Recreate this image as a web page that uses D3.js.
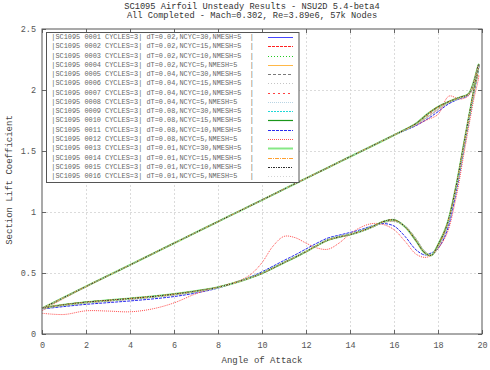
<!DOCTYPE html>
<html><head><meta charset="utf-8">
<script src="https://cdn.jsdelivr.net/npm/d3@7"></script>
<style>
body{margin:0;background:#fff}
svg{display:block}
text{font-family:"Liberation Mono","DejaVu Sans Mono",monospace}
</style>
</head><body>
<svg id="chart" width="490" height="370"></svg>
<script>
// ---------------- data ----------------
const titleLines = ["SC1095 Airfoil Unsteady Results - NSU2D 5.4-beta4",
                    "All Completed - Mach=0.302, Re=3.89e6, 57k Nodes"];
const xLabel = "Angle of Attack";
const yLabel = "Section Lift Coefficient";
const xTicks = [0,2,4,6,8,10,12,14,16,18,20];
const yTicks = [0,0.5,1,1.5,2,2.5];
const yTickLabels = ["0","0.5","1","1.5","2","2.5"];

// angle of attack along one cycle (upstroke then downstroke)
const alpha = [0,1,2,3,4,5,6,7,8,9,10,11,12,13,14,15,16,16.5,17,17.5,18,18.5,19,19.4,19.85,
  19.6,19.2,18.8,18.4,18,17.7,17.4,17,16.5,16,15.5,15,14.5,14,13.5,13,12.5,12,11.5,11,10.5,10,9.5,9,8,7,6,5,4,3,2,1,0];

// lift coefficient curves
const clConverged = [0.21,0.30,0.39,0.478,0.566,0.655,0.744,0.833,0.921,1.010,1.098,1.187,1.276,1.364,1.453,1.541,1.630,1.675,1.725,1.800,1.862,1.905,1.940,1.970,2.210,
  1.970,1.580,1.190,0.890,0.730,0.645,0.665,0.765,0.880,0.935,0.920,0.878,0.842,0.815,0.795,0.770,0.725,0.675,0.628,0.585,0.540,0.497,0.463,0.433,0.383,0.352,0.327,0.307,0.291,0.276,0.261,0.240,0.212];
const clMid = [0.21,0.30,0.39,0.478,0.566,0.655,0.744,0.833,0.921,1.010,1.098,1.187,1.276,1.364,1.453,1.541,1.630,1.674,1.720,1.788,1.851,1.901,1.938,1.968,2.205,
  1.962,1.572,1.180,0.880,0.717,0.646,0.670,0.772,0.882,0.930,0.916,0.876,0.841,0.815,0.796,0.771,0.726,0.676,0.629,0.586,0.541,0.497,0.462,0.432,0.381,0.350,0.324,0.304,0.288,0.273,0.258,0.238,0.211];
const clLag = [0.21,0.30,0.39,0.478,0.566,0.655,0.744,0.833,0.921,1.010,1.098,1.187,1.276,1.364,1.453,1.541,1.630,1.672,1.716,1.775,1.840,1.897,1.935,1.965,2.200,
  1.955,1.565,1.170,0.870,0.705,0.647,0.675,0.780,0.885,0.925,0.912,0.874,0.840,0.816,0.797,0.772,0.727,0.677,0.630,0.587,0.542,0.498,0.462,0.431,0.380,0.347,0.321,0.301,0.285,0.270,0.255,0.235,0.210];
const cl0011 = [0.21,0.30,0.39,0.478,0.566,0.655,0.744,0.833,0.921,1.010,1.098,1.187,1.276,1.364,1.453,1.541,1.630,1.668,1.708,1.760,1.822,1.888,1.930,1.960,2.195,
  1.940,1.540,1.140,0.840,0.700,0.665,0.648,0.690,0.800,0.885,0.905,0.886,0.856,0.832,0.810,0.787,0.745,0.697,0.648,0.603,0.556,0.510,0.470,0.436,0.376,0.336,0.307,0.287,0.271,0.257,0.243,0.225,0.205];
const cl0012 = [0.19,0.292,0.385,0.476,0.565,0.655,0.744,0.833,0.921,1.010,1.098,1.187,1.276,1.364,1.453,1.541,1.630,1.672,1.712,1.755,1.800,1.950,1.925,1.955,2.120,
  1.900,1.500,1.100,0.820,0.700,0.645,0.628,0.655,0.760,0.855,0.898,0.905,0.875,0.820,0.745,0.695,0.705,0.745,0.790,0.800,0.720,0.585,0.490,0.440,0.385,0.330,0.255,0.205,0.182,0.188,0.190,0.160,0.170];

const seriesNames = [
  "|SC1095 0001 CYCLES=3| dT=0.02,NCYC=30,NMESH=5  |",
  "|SC1095 0002 CYCLES=3| dT=0.02,NCYC=15,NMESH=5  |",
  "|SC1095 0003 CYCLES=3| dT=0.02,NCYC=10,NMESH=5  |",
  "|SC1095 0004 CYCLES=3| dT=0.02,NCYC=5,NMESH=5   |",
  "|SC1095 0005 CYCLES=3| dT=0.04,NCYC=30,NMESH=5  |",
  "|SC1095 0006 CYCLES=3| dT=0.04,NCYC=15,NMESH=5  |",
  "|SC1095 0007 CYCLES=3| dT=0.04,NCYC=10,NMESH=5  |",
  "|SC1095 0008 CYCLES=3| dT=0.04,NCYC=5,NMESH=5   |",
  "|SC1095 0009 CYCLES=3| dT=0.08,NCYC=30,NMESH=5  |",
  "|SC1095 0010 CYCLES=3| dT=0.08,NCYC=15,NMESH=5  |",
  "|SC1095 0011 CYCLES=3| dT=0.08,NCYC=10,NMESH=5  |",
  "|SC1095 0012 CYCLES=3| dT=0.08,NCYC=5,NMESH=5   |",
  "|SC1095 0013 CYCLES=3| dT=0.01,NCYC=30,NMESH=5  |",
  "|SC1095 0014 CYCLES=3| dT=0.01,NCYC=15,NMESH=5  |",
  "|SC1095 0015 CYCLES=3| dT=0.01,NCYC=10,NMESH=5  |",
  "|SC1095 0016 CYCLES=3| dT=0.01,NCYC=5,NMESH=5   |"
];
const seriesValues = [clLag, clConverged, clConverged, clLag, clConverged, clMid, clMid, clLag,
                      clConverged, clConverged, cl0011, cl0012, clConverged, clConverged, clConverged, clLag];

// ---------------- styles ----------------
const colors = ["#4646ff","#ff2020","#22cc22","#ffb848","#7a7a7a","#c4c4c4","#ff4040","#b8d4e4",
                "#20d8d8","#1a961a","#2a2aee","#ff4c4c","#86e886","#ffa030","#2e2e2e","#d4d4d4"];
const dashes = [null,"3,1","1,2",null,"3,2","1,2","2,3","1,1",
                "2,1",null,"3,1","1,1",null,"4,1,1,1","2,1,1,1","1,2"];
const widths = [1,1,1,1,1,1,1,1,1,1.2,1,1,2,1,1,1];

// ---------------- chart ----------------
const svg = d3.select("#chart");
const L = 42, R = 482, T = 29, B = 334;
const x = d3.scaleLinear().domain([0,20]).range([L,R]);
const y = d3.scaleLinear().domain([0,2.5]).range([B,T]);

svg.append("rect").attr("width",490).attr("height",370).attr("fill","#fff");

// title
svg.selectAll("text.title").data(titleLines).enter().append("text")
  .attr("x",252).attr("y",(d,i)=>9+i*9)
  .attr("text-anchor","middle").attr("font-size","8.7px").attr("fill","#333")
  .text(d=>d);

// grid
const grid = svg.append("g").attr("stroke","#d2d2d2").attr("stroke-width",0.8).attr("stroke-dasharray","2,2");
grid.selectAll("line.gx").data(xTicks.slice(1,-1)).enter().append("line")
  .attr("x1",d=>x(d)+0.5).attr("x2",d=>x(d)+0.5).attr("y1",T).attr("y2",B);
grid.selectAll("line.gy").data(yTicks.slice(1,-1)).enter().append("line")
  .attr("y1",d=>y(d)+0.5).attr("y2",d=>y(d)+0.5).attr("x1",L).attr("x2",R);

// series
const line = d3.line().x(d=>x(d[0])).y(d=>y(d[1])).curve(d3.curveCatmullRom.alpha(0.5));
const gSeries = svg.append("g").attr("fill","none");
seriesValues.forEach((vals,i)=>{
  const pts = alpha.map((a,k)=>[a, vals[k]]);
  gSeries.append("path").attr("d",line(pts))
    .attr("stroke",colors[i]).attr("stroke-width",widths[i])
    .attr("stroke-dasharray",dashes[i]);
});

// axes (ticks inward, mirrored)
function styleAxis(g){
  g.select(".domain").remove();
  g.selectAll(".tick line").attr("stroke","#666");
  g.selectAll(".tick text").attr("fill","#555").attr("font-size","8.5px")
    .attr("font-family",'"Liberation Mono",monospace');
}
svg.append("g").attr("transform",`translate(0,${B})`)
  .call(d3.axisBottom(x).tickValues(xTicks).tickSizeInner(-4).tickSizeOuter(0).tickPadding(8).tickFormat(d3.format("d")))
  .call(styleAxis);
svg.append("g").attr("transform",`translate(0,${T})`)
  .call(d3.axisTop(x).tickValues(xTicks).tickSizeInner(-4).tickSizeOuter(0).tickFormat(""))
  .call(styleAxis);
svg.append("g").attr("transform",`translate(${L},0)`)
  .call(d3.axisLeft(y).tickValues(yTicks).tickSizeInner(-4).tickSizeOuter(0).tickPadding(6).tickFormat((d,i)=>yTickLabels[i]))
  .call(styleAxis);
svg.append("g").attr("transform",`translate(${R},0)`)
  .call(d3.axisRight(y).tickValues(yTicks).tickSizeInner(-4).tickSizeOuter(0).tickFormat(""))
  .call(styleAxis);

// border
svg.append("rect").attr("x",L).attr("y",T).attr("width",R-L).attr("height",B-T)
  .attr("fill","none").attr("stroke","#555").attr("stroke-width",1);

// axis labels
svg.append("text").attr("x",262).attr("y",363).attr("text-anchor","middle")
  .attr("font-size","9px").attr("fill","#444").text(xLabel);
svg.append("text").attr("transform","translate(12,180) rotate(-90)").attr("text-anchor","middle")
  .attr("font-size","9px").attr("fill","#444").text(yLabel);

// legend
const leg = svg.append("g");
leg.append("rect").attr("x",46.5).attr("y",32.5).attr("width",252.5).attr("height",150)
  .attr("fill","#fff").attr("stroke","#555").attr("stroke-width",1);
seriesNames.forEach((name,i)=>{
  const cy = Math.round(37 + i*9.27);
  leg.append("text").attr("x",51.3).attr("y",cy+2.4).attr("font-size","6.9px")
    .attr("fill","#666").text(name.replace(/ /g,"\u00a0"));
  leg.append("line").attr("x1",268).attr("x2",293).attr("y1",cy+0.5).attr("y2",cy+0.5)
    .attr("stroke",colors[i]).attr("stroke-width",widths[i]).attr("stroke-dasharray",dashes[i]);
});
</script>
</body></html>
